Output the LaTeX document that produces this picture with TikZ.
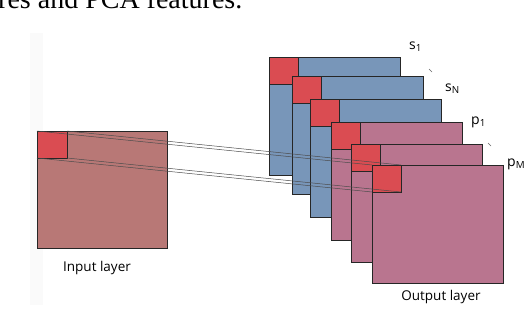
\documentclass[tikz,border=0pt]{standalone}
\usepackage{fontspec}
\setmainfont{Open Sans}
\newfontfamily\serifcap{Liberation Serif}
\definecolor{sblue}{RGB}{120,150,185}
\definecolor{ppink}{RGB}{185,117,143}
\definecolor{inbrown}{RGB}{184,120,118}
\definecolor{kred}{RGB}{218,76,82}
\tikzset{
  fmap/.style={rectangle, draw=black!85, line width=0.8pt, minimum width=131pt, minimum height=118pt, anchor=north west, inner sep=0pt, outer sep=0pt},
  kern/.style={rectangle, draw=black!85, fill=kred, line width=0.8pt, minimum width=29pt, minimum height=27pt, anchor=north west, inner sep=0pt, outer sep=0pt},
  conn/.style={draw=black!70, line width=0.5pt},
  lbl/.style={font=\fontsize{13.5}{15}\selectfont, inner sep=0pt},
  maplbl/.style={font=\fontsize{14}{16}\selectfont, inner sep=0pt, anchor=base west}
}
\begin{document}
\begin{tikzpicture}[x=1pt,y=-1pt]
\useasboundingbox (0,0) rectangle (528,322);
\clip (0,0) rectangle (528,322);
% clipped caption text from page above
\node[anchor=base west, inner sep=0pt, font=\serifcap\fontsize{28}{30}\selectfont] (toptext) at (-2,8) {res and PCA features.};
% faint panel strip
\fill[black!2] (30,33) rectangle (43,305);
% input layer
\node[fmap, fill=inbrown, minimum width=130pt, minimum height=117pt] (in) at (37,131) {};
\node[kern, minimum width=30pt] (inr) at (37,131) {};
\node[lbl] (inlbl) at (97,268) {Input layer};
% stack of maps
\node[fmap, fill=sblue] (s1) at (269,57) {};
\node[kern] (s1r) at (269,57) {};
\node[fmap, fill=sblue] (s2) at (292,76) {};
\node[kern] (s2r) at (292,76) {};
\node[fmap, fill=sblue] (s3) at (310,99) {};
\node[kern] (s3r) at (310,99) {};
\node[fmap, fill=ppink] (p1) at (331,122) {};
\node[kern] (p1r) at (331,122) {};
\node[fmap, fill=ppink] (p2) at (351,144) {};
\node[kern] (p2r) at (351,144) {};
\node[fmap, fill=ppink] (p3) at (372,165) {};
\node[kern] (p3r) at (372,165) {};
\node[lbl] (outlbl) at (441,297) {Output layer};
% connectors
\draw[conn] (inr.north west) -- (p3r.north west);
\draw[conn] (inr.north east) -- (p3r.north east);
\draw[conn] (inr.south west) -- (p3r.south west);
\draw[conn] (inr.south east) -- (p3r.south east);
% labels
\node[maplbl] (ls1) at (409,49) {s\textsubscript{1}};
\node[maplbl] (lsn) at (445,91) {s\textsubscript{N}};
\node[maplbl] (lp1) at (471,124) {p\textsubscript{1}};
\node[maplbl] (lpm) at (507,166) {p\textsubscript{M}};
\draw[black!60, line width=0.6pt] (429,69) -- (432,72);
\draw[black!60, line width=0.6pt] (488,143) -- (491,146);
\end{tikzpicture}
\end{document}
